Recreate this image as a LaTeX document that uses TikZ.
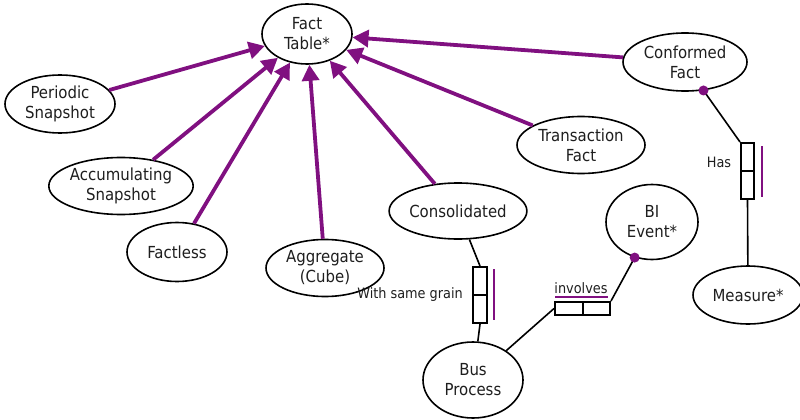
\documentclass[tikz,border=0pt]{standalone}
\usepackage{fontspec}
\setmainfont{DejaVu Sans Condensed}
\usetikzlibrary{arrows.meta,shapes.geometric}
\definecolor{relpurple}{RGB}{128,16,128}
\definecolor{inkgray}{RGB}{30,30,30}
\begin{document}
\begin{tikzpicture}[x=1pt,y=-1pt,
  ent/.style={draw=black, line width=1.6pt, ellipse, inner sep=0pt, align=center,
    font=\fontsize{16.6}{20}\selectfont, text=inkgray},
  isa/.style={draw=relpurple, line width=3.8pt, -{Triangle[length=16pt,width=17pt]}},
  link/.style={draw=black, line width=1.6pt},
  relbox/.style={draw=black, line width=2pt, rectangle, inner sep=0pt},
  tag/.style={font=\fontsize{14.3}{16}\selectfont, text=inkgray, inner sep=0pt},
  card/.style={draw=relpurple, line width=2pt}]
\useasboundingbox (0,0) rectangle (800,420);

% entities
\node[ent, minimum width=90, minimum height=60] (ft) at (307,34) {Fact\\Table*};
\node[ent, minimum width=110, minimum height=58] (ps) at (60,104) {Periodic\\Snapshot};
\node[ent, minimum width=142, minimum height=57] (as) at (121,186) {Accumulating\\Snapshot};
\node[ent, minimum width=100, minimum height=59] (fl) at (177,252) {Factless};
\node[ent, minimum width=118, minimum height=57] (ag) at (325,268) {Aggregate\\(Cube)};
\node[ent, minimum width=136, minimum height=56] (cs) at (458,211) {Consolidated};
\node[ent, minimum width=128, minimum height=57] (tf) at (581,145) {Transaction\\Fact};
\node[ent, minimum width=124, minimum height=58] (cf) at (685,62) {Conformed\\Fact};
\node[ent, minimum width=92, minimum height=75] (bi) at (652,222) {BI\\Event*};
\node[ent, minimum width=110, minimum height=58] (ms) at (748,295) {Measure*};
\node[ent, minimum width=100, minimum height=76] (bp) at (473,380) {Bus\\Process};

% subtype arrows into the fact table
\draw[isa] (ps) -- (ft);
\draw[isa] (as) -- (ft);
\draw[isa] (fl) -- (ft);
\draw[isa] (ag) -- (ft);
\draw[isa] (cs) -- (ft);
\draw[isa] (tf) -- (ft);
\draw[isa] (cf) -- (ft);

% "With same grain" relationship
\node[relbox, minimum width=14, minimum height=56] (gb) at (480,295) {};
\draw[line width=2pt] (gb.west) -- (gb.east);
\draw[card] ([xshift=6pt,yshift=-3pt]gb.north east) -- ([xshift=6pt,yshift=4pt]gb.south east);
\node[tag, anchor=east] (gl) at (463,295) {With same grain};
\draw[link] (cs) -- (gb.north);
\draw[link] (gb.south) -- (bp);

% "Has" relationship
\node[relbox, minimum width=13, minimum height=56] (hb) at (747.5,171) {};
\draw[line width=2pt] (hb.west) -- (hb.east);
\draw[card] ([xshift=7pt,yshift=-4pt]hb.north east) -- ([xshift=7pt,yshift=3pt]hb.south east);
\node[tag] (hl) at (719,162) {Has};
\coordinate (cfdot) at (cf.-57);
\draw[link] (cfdot) -- (hb.north west);
\draw[link] (hb.south) -- (ms);
\fill[relpurple] (cfdot) circle (5pt);

% "involves" relationship
\node[relbox, minimum width=55, minimum height=13] (ib) at (582.5,308.5) {};
\draw[line width=2pt] (ib.north) -- (ib.south);
\node[tag] (il) at (581,288) {involves};
\draw[card] (555,296.5) -- (608,296.5);
\coordinate (bidot) at (bi.-116);
\draw[link] (bp) -- (ib.west);
\draw[link] (ib.north east) -- (bidot);
\fill[relpurple] (bidot) circle (5pt);
\end{tikzpicture}
\end{document}
